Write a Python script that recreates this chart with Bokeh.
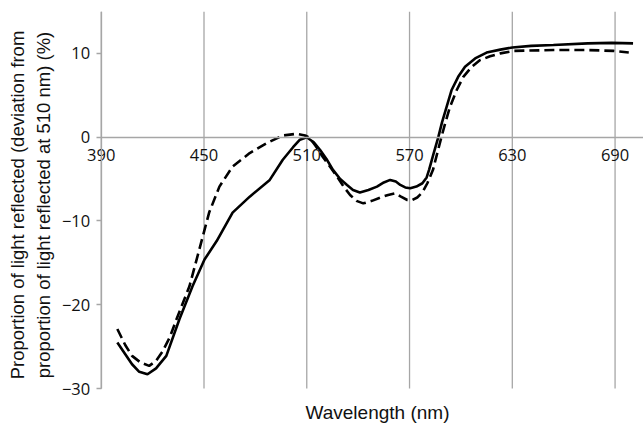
from bokeh.plotting import figure
from bokeh.models import Range1d, FixedTicker, LinearAxis, Title
from bokeh.embed import file_html
from bokeh.resources import INLINE

# Solid curve (wavelength nm, deviation %)
solid_nm = [399.4, 408, 412.2, 417, 422, 428, 435.7, 443.3, 450.3, 457.4, 466.7,
            476.7, 488.4, 496, 502, 506, 510, 514, 517.7, 521.5, 525.3, 529.5,
            533.5, 537, 541, 546, 551, 555, 558.7, 562, 564.6, 567.5, 570.4, 574,
            577.5, 580, 581.4, 584, 586.8, 589, 591.6, 594.5, 598.4, 602.4, 608.3,
            615, 623, 630, 641, 654, 674, 688, 700.5]
solid_val = [-24.5, -27.1, -28.0, -28.3, -27.6, -26.1, -21.7, -17.8, -14.6, -12.4, -9.0,
             -7.1, -5.1, -2.7, -1.2, -0.3, 0.0, -0.6, -1.5, -2.6, -3.9, -5.0,
             -5.7, -6.3, -6.6, -6.3, -5.9, -5.4, -5.1, -5.3, -5.7, -6.0, -6.1, -5.9,
             -5.5, -4.8, -3.9, -2.0, 0.0, 1.8, 3.6, 5.6, 7.2, 8.4, 9.4,
             10.1, 10.45, 10.7, 10.9, 11.0, 11.2, 11.25, 11.2]

# Dashed curve
dashed_nm = [399.4, 404, 408, 413, 418, 422, 425.7, 430, 434, 441.5, 447.4, 453, 459,
             466.7, 476.7, 486.7, 496, 504, 509, 511.8, 515, 519.5, 523.5, 527.7,
             531.5, 535.3, 539, 543, 548, 553, 557.5, 561.6, 565, 568.7, 571.5,
             574.5, 577.5, 580.4, 583.7, 586.2, 588.6, 591, 593.6, 597.5, 601.4,
             606.3, 611.2, 617, 623, 630.8, 654, 674, 689, 698]
dashed_val = [-22.9, -24.8, -26.1, -26.9, -27.3, -26.7, -25.6, -23.9, -21.7, -17.8, -13.3, -9.0, -5.9,
              -3.5, -1.9, -0.7, 0.2, 0.4, 0.2, -0.1, -1.0, -2.4, -3.5, -4.7,
              -5.9, -6.9, -7.6, -7.9, -7.6, -7.2, -6.9, -6.7, -7.1, -7.5, -7.5,
              -7.2, -6.6, -5.5, -3.9, -1.9, 0.0, 1.8, 3.6, 5.6, 7.2,
              8.4, 9.2, 9.65, 10.0, 10.3, 10.4, 10.4, 10.3, 10.1]

x_ticks = [390, 450, 510, 570, 630, 690]
y_ticks = [-30, -20, -10, 0, 10]
y_tick_labels = ["\u221230", "\u221220", "\u221210", "0", "10"]
y_min, y_max = -30, 15

GRAY = "#a6a6a6"
TXT = "#111111"
TICK_FONT = "Open Sans"
TITLE_FONT = "Liberation Sans"

p = figure(width=643, height=424, output_backend="svg", toolbar_location=None,
           x_range=Range1d(363.3, 706.6), y_range=Range1d(-31.19, y_max),
           min_border_left=55, min_border_right=0, min_border_top=11, min_border_bottom=25)
p.outline_line_color = None
p.background_fill_color = "white"
p.border_fill_color = "white"

# vertical grid lines, spanning the axis extent (-30 .. 15) only
n = len(x_ticks)
p.segment(x0=x_ticks, x1=x_ticks, y0=[y_min] * n, y1=[y_max] * n,
          line_color=GRAY, line_width=1.3)
p.xgrid.visible = False
p.ygrid.visible = False

# x axis crossing at y = 0
xa = p.xaxis[0]
xa.ticker = FixedTicker(ticks=x_ticks)
xa.fixed_location = 0
xa.bounds = (390, 800)
xa.axis_line_color = GRAY
xa.axis_line_width = 1.3
xa.major_tick_line_color = None
xa.minor_tick_line_color = None
xa.major_label_standoff = 6
xa.major_label_text_font = TICK_FONT
xa.major_label_text_font_size = "16.5px"
xa.major_label_text_color = TXT

# y axis crossing at x = 390
ya = p.yaxis[0]
ya.ticker = FixedTicker(ticks=y_ticks)
ya.fixed_location = 390
ya.bounds = (y_min, y_max)
ya.major_label_overrides = {t: l for t, l in zip(y_ticks, y_tick_labels)}
ya.axis_line_color = GRAY
ya.axis_line_width = 1.3
ya.major_tick_line_color = GRAY
ya.major_tick_line_width = 1.3
ya.major_tick_in = 0
ya.major_tick_out = 5
ya.minor_tick_line_color = None
ya.major_label_standoff = 6
ya.major_label_text_font = TICK_FONT
ya.major_label_text_font_size = "16.5px"
ya.major_label_text_color = TXT

# x title, centred under the plotting area that starts at the y axis
xtitle = Title(text="Wavelength (nm)", align="left", offset=250, standoff=3,
               text_font=TITLE_FONT, text_font_size="19px", text_font_style="normal",
               text_color=TXT)
p.add_layout(xtitle, "below")

ylab = LinearAxis(ticker=FixedTicker(ticks=[]),
                  axis_label="Proportion of light reflected (deviation from\nproportion of light reflected at 510 nm) (%)")
ylab.axis_line_color = None
ylab.major_tick_line_color = None
ylab.minor_tick_line_color = None
ylab.major_label_text_font_size = "0px"
ylab.major_tick_out = 0
ylab.major_label_standoff = 0
ylab.axis_label_standoff = 2
ylab.axis_label_text_font = TITLE_FONT
ylab.axis_label_text_font_size = "18.5px"
ylab.axis_label_text_font_style = "normal"
ylab.axis_label_text_color = TXT
ylab.axis_label_text_line_height = 1.2
p.add_layout(ylab, "left")

p.line(dashed_nm, dashed_val, line_color="black", line_width=2.6, line_dash="10 5")
p.line(solid_nm, solid_val, line_color="black", line_width=2.6)

open("out.html", "w").write(file_html(p, INLINE))
